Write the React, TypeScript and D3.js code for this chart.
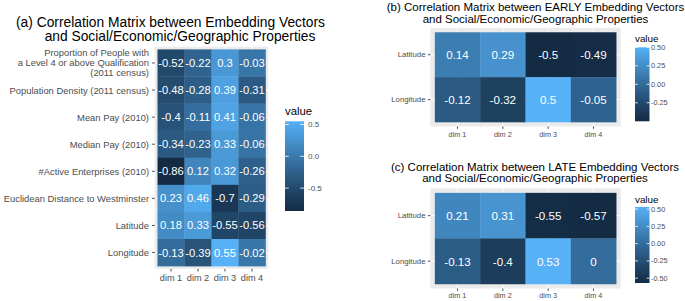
import React from "react";
import * as d3 from "d3";

// ---------- data ----------
const DIMS = ["dim 1", "dim 2", "dim 3", "dim 4"];

const A_ROWS = [
  "Proportion of People with\na Level 4 or above Qualification\n(2011 census)",
  "Population Density (2011 census)",
  "Mean Pay (2010)",
  "Median Pay (2010)",
  "#Active Enterprises (2010)",
  "Euclidean Distance to Westminster",
  "Latitude",
  "Longitude",
];
const A_VALUES = [
  [-0.52, -0.22, 0.3, -0.03],
  [-0.48, -0.28, 0.39, -0.31],
  [-0.4, -0.11, 0.41, -0.06],
  [-0.34, -0.23, 0.33, -0.06],
  [-0.86, 0.12, 0.32, -0.26],
  [0.23, 0.46, -0.7, -0.29],
  [0.18, 0.33, -0.55, -0.56],
  [-0.13, -0.39, 0.55, -0.02],
];
const A_LEGEND_TICKS = [0.5, 0.0, -0.5];
const A_LEGEND_LABELS = ["0.5", "0.0", "-0.5"];
const A_TITLE = ["(a) Correlation Matrix between Embedding Vectors", "and Social/Economic/Geographic Properties"];

const BC_ROWS = ["Latitude", "Longitude"];
const B_VALUES = [
  [0.14, 0.29, -0.5, -0.49],
  [-0.12, -0.32, 0.5, -0.05],
];
const B_LEGEND_TICKS = [0.5, 0.25, 0.0, -0.25];
const B_LEGEND_LABELS = ["0.50", "0.25", "0.00", "-0.25"];
const B_TITLE = ["(b) Correlation Matrix between EARLY Embedding Vectors", "and Social/Economic/Geographic Properties"];

const C_VALUES = [
  [0.21, 0.31, -0.55, -0.57],
  [-0.13, -0.4, 0.53, 0],
];
const C_LEGEND_TICKS = [0.5, 0.25, 0.0, -0.25, -0.5];
const C_LEGEND_LABELS = ["0.50", "0.25", "0.00", "-0.25", "-0.50"];
const C_TITLE = ["(c) Correlation Matrix between LATE Embedding Vectors", "and Social/Economic/Geographic Properties"];

const LOW = "#132B43";
const HIGH = "#56B1F7";
const FONT = "'Liberation Sans', Arial, Helvetica, sans-serif";

type Geo = {
  id: string;
  panel: [number, number, number, number]; // x0,x1,y0,y1
  title: string[];
  titleX: number[];
  titleY: number[];
  titleSize: number;
  axisSize: number;
  xAxisSize: number;
  cellSize: number;
  lineGap: number;
  yLabelX: number;
  xLabelY: number;
  tick: number;
  legend: { x: number; w: number; top: number; bottom: number; titleY: number; labelX: number; titleSize: number; labelSize: number };
};

function Heatmap({ rows, values, ticks, tickLabels, g }: { rows: string[]; values: number[][]; ticks: number[]; tickLabels: string[]; g: Geo }) {
  const [px0, px1, py0, py1] = g.panel;
  const x = d3.scaleBand<string>().domain(DIMS).range([px0, px1]).paddingInner(0).paddingOuter(0.1);
  const y = d3.scaleBand<string>().domain(rows).range([py0, py1]).paddingInner(0).paddingOuter(0.1);
  const flat = values.flat();
  const ext = d3.extent(flat) as [number, number];
  const color = d3.scaleLinear<string>().domain(ext).range([LOW, HIGH]).interpolate(d3.interpolateLab);
  const ly = d3.scaleLinear().domain(ext).range([g.legend.bottom, g.legend.top]);
  const stops = d3.range(0, 1.0001, 0.05);
  const L = g.legend;
  return (
    <g fontFamily={FONT}>
      <defs>
        <linearGradient id={"grad" + g.id} x1="0" y1="1" x2="0" y2="0">
          {stops.map((t) => (
            <stop key={t} offset={t} stopColor={color(ext[0] + t * (ext[1] - ext[0]))} />
          ))}
        </linearGradient>
      </defs>
      {g.title.map((t, i) => (
        <text key={i} x={g.titleX[i]} y={g.titleY[i]} fontSize={g.titleSize} textAnchor="middle" fill="#000">
          {t}
        </text>
      ))}
      <rect x={px0} y={py0} width={px1 - px0} height={py1 - py0} fill="#EBEBEB" />
      {DIMS.map((d) => (
        <line key={d} x1={x(d)! + x.bandwidth() / 2} x2={x(d)! + x.bandwidth() / 2} y1={py0} y2={py1} stroke="#fff" strokeWidth={1} />
      ))}
      {rows.map((r) => (
        <line key={r} y1={y(r)! + y.bandwidth() / 2} y2={y(r)! + y.bandwidth() / 2} x1={px0} x2={px1} stroke="#fff" strokeWidth={1} />
      ))}
      {rows.map((r, i) =>
        DIMS.map((d, j) => (
          <g key={r + d}>
            <rect x={x(d)!} y={y(r)!} width={x.bandwidth() + 0.3} height={y.bandwidth() + 0.3} fill={color(values[i][j])} />
            <text
              x={x(d)! + x.bandwidth() / 2}
              y={y(r)! + y.bandwidth() / 2}
              fontSize={g.cellSize}
              fill="#fff"
              textAnchor="middle"
              dominantBaseline="central"
            >
              {String(values[i][j])}
            </text>
          </g>
        ))
      )}
      {/* y axis */}
      {rows.map((r) => {
        const cy = y(r)! + y.bandwidth() / 2;
        const lines = r.split("\n");
        return (
          <g key={"y" + r}>
            <line x1={px0 - g.tick} x2={px0} y1={cy} y2={cy} stroke="#333" strokeWidth={0.9} />
            {lines.map((ln, k) => (
              <text
                key={k}
                x={g.yLabelX}
                y={cy + (k - (lines.length - 1) / 2) * g.lineGap}
                fontSize={g.axisSize}
                fill="#4d4d4d"
                textAnchor="end"
                dominantBaseline="central"
              >
                {ln}
              </text>
            ))}
          </g>
        );
      })}
      {/* x axis */}
      {DIMS.map((d) => {
        const cx = x(d)! + x.bandwidth() / 2;
        return (
          <g key={"x" + d}>
            <line x1={cx} x2={cx} y1={py1} y2={py1 + g.tick} stroke="#333" strokeWidth={0.9} />
            <text x={cx} y={g.xLabelY} fontSize={g.xAxisSize} fill="#4d4d4d" textAnchor="middle">
              {d}
            </text>
          </g>
        );
      })}
      {/* legend */}
      <text x={L.x} y={L.titleY} fontSize={L.titleSize} fill="#000">
        value
      </text>
      <rect x={L.x} y={L.top} width={L.w} height={L.bottom - L.top} fill={`url(#grad${g.id})`} />
      {ticks.map((t, i) => (
        <g key={"l" + t}>
          <line x1={L.x} x2={L.x + L.w / 5} y1={ly(t)} y2={ly(t)} stroke="#fff" strokeWidth={0.8} />
          <line x1={L.x + L.w - L.w / 5} x2={L.x + L.w} y1={ly(t)} y2={ly(t)} stroke="#fff" strokeWidth={0.8} />
          <text x={L.labelX} y={ly(t)} fontSize={L.labelSize} fill="#4d4d4d" dominantBaseline="central">
            {tickLabels[i]}
          </text>
        </g>
      ))}
    </g>
  );
}

const GA: Geo = {
  id: "a",
  panel: [154.8, 268.2, 46.7, 268.8],
  title: A_TITLE,
  titleX: [170.5, 180],
  titleY: [27, 40.9],
  titleSize: 13.8,
  axisSize: 9.4,
  xAxisSize: 9.2,
  cellSize: 11.2,
  lineGap: 10,
  yLabelX: 149,
  xLabelY: 281,
  tick: 2.7,
  legend: { x: 285, w: 19, top: 121.3, bottom: 211, titleY: 114.5, labelX: 308, titleSize: 11.3, labelSize: 8 },
};

const GB: Geo = {
  id: "b",
  panel: [430.3, 620.7, 27.8, 126.5],
  title: B_TITLE,
  titleX: [535.5, 535.5],
  titleY: [11, 22.6],
  titleSize: 11.5,
  axisSize: 7.8,
  xAxisSize: 7.3,
  cellSize: 11.6,
  lineGap: 9,
  yLabelX: 425.5,
  xLabelY: 137,
  tick: 2.3,
  legend: { x: 635, w: 14.5, top: 47.3, bottom: 121.3, titleY: 42.3, labelX: 651, titleSize: 9.8, labelSize: 7.3 },
};

const GC: Geo = {
  id: "c",
  panel: [430.3, 620.7, 188.3, 288.5],
  title: C_TITLE,
  titleX: [535, 535],
  titleY: [171, 182.4],
  titleSize: 11.5,
  axisSize: 7.8,
  xAxisSize: 7.3,
  cellSize: 11.6,
  lineGap: 9,
  yLabelX: 425.5,
  xLabelY: 298,
  tick: 2.3,
  legend: { x: 635, w: 14.5, top: 207, bottom: 283, titleY: 202.8, labelX: 651, titleSize: 9.8, labelSize: 7.3 },
};

export default function App() {
  return (
    <svg
      width={685}
      height={301}
      viewBox="0 0 685 301"
      style={{ position: "absolute", left: 0, top: 0, background: "#fff" }}
    >
      <rect x={0} y={0} width={685} height={301} fill="#fff" />
      <Heatmap rows={A_ROWS} values={A_VALUES} ticks={A_LEGEND_TICKS} tickLabels={A_LEGEND_LABELS} g={GA} />
      <Heatmap rows={BC_ROWS} values={B_VALUES} ticks={B_LEGEND_TICKS} tickLabels={B_LEGEND_LABELS} g={GB} />
      <Heatmap rows={BC_ROWS} values={C_VALUES} ticks={C_LEGEND_TICKS} tickLabels={C_LEGEND_LABELS} g={GC} />
    </svg>
  );
}
